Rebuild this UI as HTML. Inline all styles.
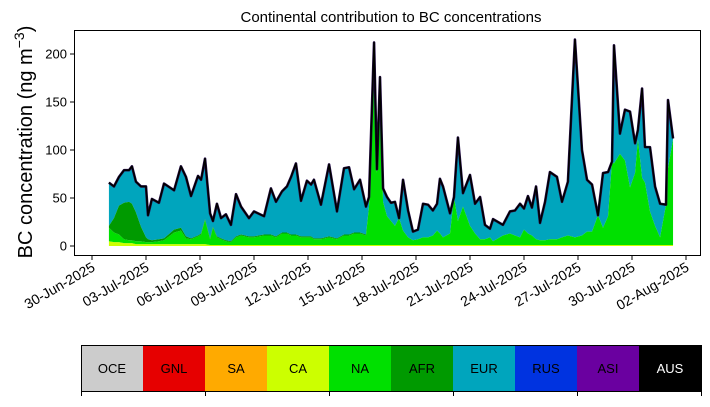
<!DOCTYPE html>
<html><head><meta charset="utf-8"><style>
body{margin:0;background:#fff;font-family:"Liberation Sans",sans-serif}
svg text{font-family:"Liberation Sans",sans-serif}
</style></head><body>
<svg id="chart" width="710" height="402" xmlns="http://www.w3.org/2000/svg">
<text x="391" y="22" font-size="15" text-anchor="middle">Continental contribution to BC concentrations</text>
<text transform="translate(32,142) rotate(-90)" font-size="20" text-anchor="middle">BC concentration (ng m<tspan baseline-shift="super" font-size="14">−3</tspan>)</text>
<g id="areas"></g>
<g id="axes"></g>
<g id="legend"></g>
</svg>
<script>
const days=[0.94,1.22,1.5,1.78,2.06,2.22,2.44,2.72,3.0,3.11,3.33,3.72,4.0,4.56,4.94,5.22,5.5,5.89,6.06,6.28,6.56,6.72,6.94,7.17,7.44,7.72,8.0,8.28,8.72,9.0,9.56,9.94,10.22,10.56,10.83,11.06,11.33,11.61,11.94,12.17,12.33,12.72,13.17,13.61,14.0,14.28,14.56,14.89,15.22,15.39,15.67,15.83,16.0,16.17,16.39,16.61,16.83,17.06,17.28,17.56,17.83,18.11,18.39,18.67,18.94,19.17,19.33,19.5,19.89,20.11,20.33,20.61,21.0,21.28,21.56,21.83,22.11,22.28,22.83,23.22,23.5,23.78,24.0,24.22,24.44,24.67,24.89,25.17,25.44,25.83,26.11,26.44,26.83,27.22,27.5,27.78,28.11,28.39,28.67,28.89,29.0,29.33,29.61,29.89,30.17,30.33,30.56,30.72,31.0,31.28,31.56,31.89,32.0,32.28];
const total=[66,62,72,79,79,83,67,62,62,32,49,45,65,58,83,72,52,73,69,91,34,26,44,29,33,22,54,41,29,36,31,60,46,57,62,72,86,47,68,64,69,43,85,36,81,82,59,69,41,51,212,80,176,60,51,45,46,29,69,37,15,17,44,43,37,44,70,62,34,51,113,55,74,44,51,22,18,28,22,36,37,44,39,52,40,62,24,46,77,72,46,67,215,100,69,64,32,76,77,88,209,117,142,140,107,121,164,103,103,62,44,43,152,112,160];
const naVals=[14,10,8,4,3,3,3,3,2,2,2,3,4,12,14,6,5,8,10,25,6,18,8,6,4,3,8,10,8,8,10,10,8,12,12,10,10,8,8,8,6,6,8,6,10,10,12,12,10,40,195,75,160,45,30,25,20,40,15,8,5,6,8,8,10,15,12,8,12,60,25,40,20,12,6,6,8,4,10,12,10,8,16,12,10,6,5,5,6,6,8,10,8,10,14,14,35,18,30,100,85,95,88,60,75,110,70,65,35,20,8,120,80,110];
const afrVals=[2,15,30,38,40,38,30,15,5,3,2,2,2,3,3,2,1,1,1,1,1,1,1,1,1,1,1,1,1,1,1,1,1,1,1,1,1,1,1,1,1,1,1,1,1,1,1,1,1,0,0,0,0,0,0,0,0,0,0,0,0,0,0,0,0,0,0,0,0,0,0,0,0,0,0,0,0,0,0,0,0,0,0,0,0,0,0,0,0,0,0,0,0,0,0,0,0,0,0,0,0,0,0,0,0,0,0,0,0,0,0,0,0,0,0];
const caVals=[5,4,4,3,3,3,2,2,2,2,2,2,2,2,2,2,2,2,2,2,1,1,1,1,1,1,1,1,1,1,1,1,1,1,1,1,1,1,1,1,1,1,1,1,1,1,1,1,1,1,1,1,1,1,1,1,1,1,1,1,1,1,1,1,1,1,1,1,1,1,1,1,1,1,1,1,1,1,1,1,1,1,1,1,1,1,1,1,1,1,1,1,1,1,1,1,1,1,1,1,1,1,1,1,1,1,1,1,1,1,1,1,1,1,1];
const yTicks=[0,50,100,150,200];
const xTickLabels=["30-Jun-2025","03-Jul-2025","06-Jul-2025","09-Jul-2025","12-Jul-2025","15-Jul-2025","18-Jul-2025","21-Jul-2025","24-Jul-2025","27-Jul-2025","30-Jul-2025","02-Aug-2025"];
const xTickDays=[0,3,6,9,12,15,18,21,24,27,30,33];
const legendNames=["OCE","GNL","SA","CA","NA","AFR","EUR","RUS","ASI","AUS"];
const legendColors=["#cccccc","#e60000","#ffaa00","#ccff00","#00e000","#009a00","#00a5bd","#0033e0","#6a00a0","#000000"];

const NS="http://www.w3.org/2000/svg";
const xs=d=>92+d*18, ys=v=>246-v*0.96;
function mk(tag,attrs,parent){const e=document.createElementNS(NS,tag);for(const k in attrs)e.setAttribute(k,attrs[k]);parent.appendChild(e);return e;}
const n=Math.min(days.length,total.length,naVals.length,afrVals.length,caVals.length);
const layers=[caVals,naVals,afrVals];
let base=new Array(n).fill(0);
const areas=document.getElementById('areas');
function band(lo,hi,color,name){
  let d="M"+xs(days[0])+","+ys(hi[0]);
  for(let i=1;i<n;i++)d+="L"+xs(days[i])+","+ys(hi[i]);
  for(let i=n-1;i>=0;i--)d+="L"+xs(days[i])+","+ys(lo[i]);
  const p=mk('path',{d:d+"Z",fill:color,stroke:'none'},areas);
  
  
}
const names=["area-ca","area-na","area-afr"],cols=["#ccff00","#00e000","#009a00"];
const stacks=[];
layers.forEach((L,j)=>{const hi=base.map((b,i)=>Math.min(b+L[i],total[i]));stacks.push([base,hi,cols[j],names[j]]);base=hi;});
band(base,total.slice(0,n),"#00a5bd","area-eur");
stacks.forEach(s=>band(s[0],s[1],s[2],s[3]));
let ld="M"+days.slice(0,n).map((d,i)=>xs(d)+","+ys(total[i])).join("L");
const tl=mk('path',{d:ld,fill:'none',stroke:'#2a1050','stroke-width':2.6,'stroke-linejoin':'round'},areas);


mk('path',{d:ld,fill:'none',stroke:'#000','stroke-width':1.6,'stroke-linejoin':'round'},areas);

const ax=document.getElementById('axes');
const fr=mk('rect',{x:74.5,y:30.5,width:626,height:225,fill:'none',stroke:'#000','stroke-width':1},ax);


yTicks.forEach(v=>{
  mk('line',{x1:70,x2:74.5,y1:ys(v),y2:ys(v),stroke:'#000'},ax);
  const t=mk('text',{x:67,y:ys(v)+4.5,'font-size':13,'text-anchor':'end'},ax);t.textContent=v;
  
  
});
xTickDays.forEach((d,i)=>{
  const x=xs(d);
  mk('line',{x1:x,x2:x,y1:255.5,y2:260,stroke:'#000'},ax);
  const t=mk('text',{transform:`translate(${x+4},${270}) rotate(-30)`,'font-size':14,'text-anchor':'end'},ax);
  t.textContent=xTickLabels[i];
  
  
});
const lg=document.getElementById('legend');
legendNames.forEach((nm,i)=>{
  const x=81+i*62;
  const r=mk('rect',{x:x,y:345,width:62,height:46,fill:legendColors[i]},lg);
  
  
  const t=mk('text',{x:x+31,y:373,'font-size':13,'text-anchor':'middle',fill:nm==="AUS"?"#fff":"#000"},lg);
  t.textContent=nm;
  
  
});
mk('rect',{x:81.5,y:345.5,width:620,height:46,fill:'none',stroke:'#000','stroke-width':1},lg);
[0,2,4,6,8,10].forEach(k=>mk('line',{x1:81.5+k*62,x2:81.5+k*62,y1:391,y2:396,stroke:'#000'},lg));
</script>
</body></html>
